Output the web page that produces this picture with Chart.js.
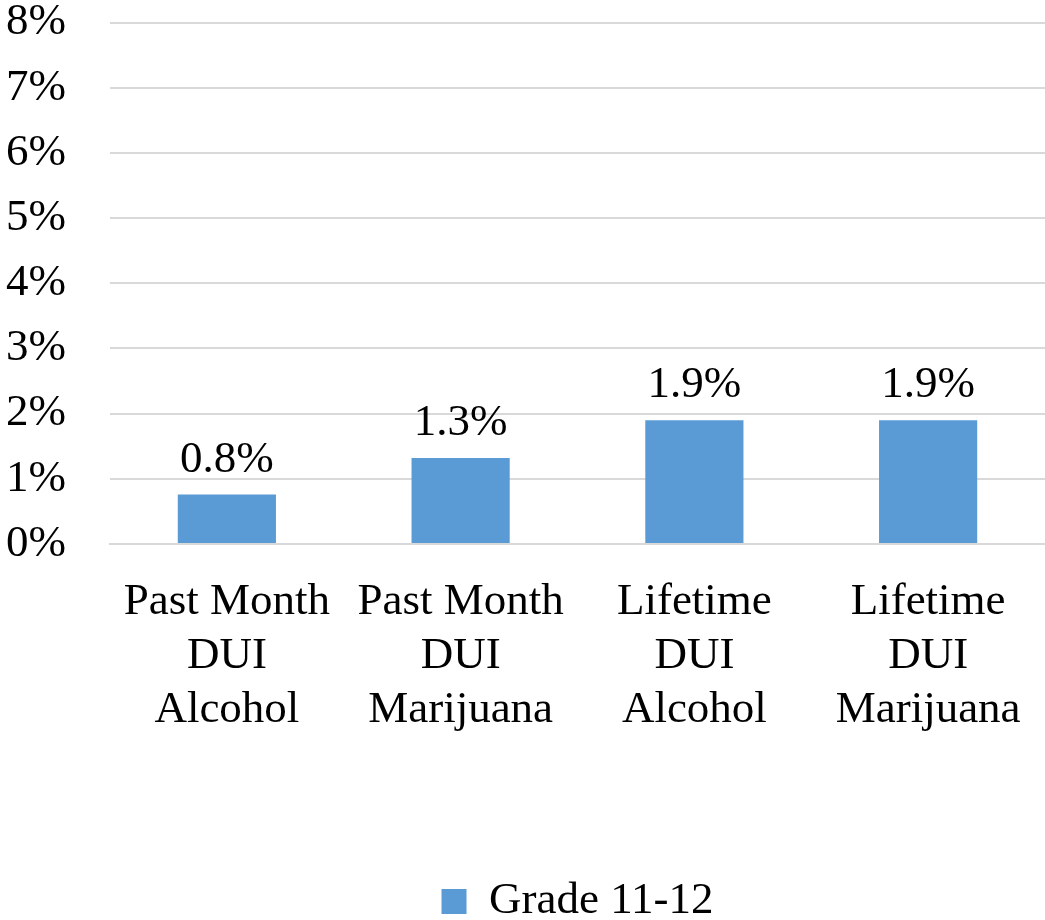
<!DOCTYPE html>
<html>
<head>
<meta charset="utf-8">
<script src="https://cdn.jsdelivr.net/npm/chart.js@4/dist/chart.umd.min.js"></script>
<style>
  html, body { margin: 0; padding: 0; background: #fff; }
  #wrap { width: 1045px; height: 920px; }
</style>
</head>
<body>
<div id="wrap"><canvas id="grafico"></canvas></div>
<script>
// categorias y valores
const categorias = [
  ['Past Month', 'DUI', 'Alcohol'],
  ['Past Month', 'DUI', 'Marijuana'],
  ['Lifetime', 'DUI', 'Alcohol'],
  ['Lifetime', 'DUI', 'Marijuana']
];
const valores = [0.76, 1.32, 1.9, 1.9];
const serie = 'Grade 11-12';
const ticksY = [0, 1, 2, 3, 4, 5, 6, 7, 8];

const fuente = '"Liberation Serif", "Times New Roman", serif';

// etiquetas encima de las barras
const etiquetasBarras = {
  id: 'etiquetasBarras',
  afterDatasetsDraw(chart) {
    const ctx = chart.ctx;
    ctx.save();
    ctx.font = '45px ' + fuente;
    ctx.fillStyle = '#000';
    ctx.textAlign = 'center';
    ctx.textBaseline = 'bottom';
    chart.getDatasetMeta(0).data.forEach((bar, i) => {
      ctx.fillText(valores[i].toFixed(1) + '%', bar.x, bar.y - 12);
    });
    ctx.restore();
  }
};

new Chart(document.getElementById('grafico'), {
  type: 'bar',
  data: {
    labels: categorias,
    datasets: [{
      label: serie,
      data: valores,
      backgroundColor: '#5b9bd5',
      categoryPercentage: 1,
      barPercentage: 0.42
    }]
  },
  options: {
    responsive: true,
    maintainAspectRatio: false,
    animation: false,
    layout: { padding: { left: 6, right: 0, top: 0, bottom: -14 } },
    plugins: {
      tooltip: { enabled: false },
      legend: {
        position: 'bottom',
        fullSize: false,
        labels: {
          color: '#000',
          font: { family: fuente, size: 45, lineHeight: 1 },
          boxWidth: 25,
          boxHeight: 25,
          padding: 0
        }
      }
    },
    scales: {
      x: {
        grid: { display: false },
        border: { color: '#d9d9d9', width: 2 },
        ticks: {
          color: '#000',
          font: { family: fuente, size: 45, lineHeight: 1.2 },
          padding: 23,
          maxRotation: 0,
          autoSkip: false
        },
        afterFit: (scale) => { scale.height = 335; }
      },
      y: {
        min: 0,
        max: 8,
        afterBuildTicks: (scale) => { scale.ticks = ticksY.map(v => ({ value: v })); },
        grid: { color: '#d9d9d9', lineWidth: 2, drawTicks: false },
        border: { display: false },
        ticks: {
          color: '#000',
          font: { family: fuente, size: 45, lineHeight: 1 },
          padding: 0,
          crossAlign: 'far',
          callback: (v) => v + '%'
        },
        afterFit: (scale) => { scale.width = 104; }
      }
    }
  },
  plugins: [etiquetasBarras]
});
</script>
</body>
</html>
